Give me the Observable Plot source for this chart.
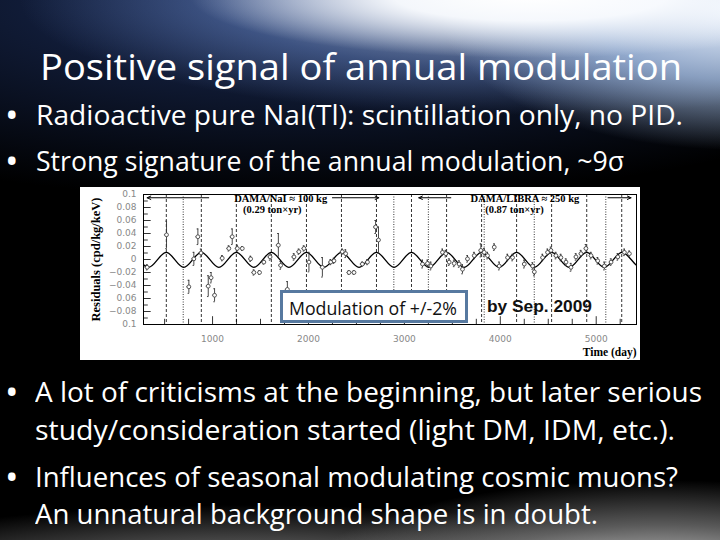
<!DOCTYPE html>
<html><head><meta charset="utf-8">
<script src="https://cdn.jsdelivr.net/npm/d3@7"></script>
<script src="https://cdn.jsdelivr.net/npm/@observablehq/plot@0.6"></script>
<style>
html,body{margin:0;padding:0;background:#000;}
#slide{position:relative;width:720px;height:540px;overflow:hidden;
 background:
  radial-gradient(ellipse 340px 62px at 530px -4px, rgba(255,255,255,1) 0%, rgba(250,252,255,0.95) 40%, rgba(255,255,255,0) 100%),
  radial-gradient(ellipse 300px 140px at 740px 10px, rgba(235,242,252,1) 0%, rgba(170,195,230,0.75) 50%, rgba(60,90,150,0) 100%),
  radial-gradient(ellipse 500px 115px at 520px 0px, rgba(200,215,240,0.85) 0%, rgba(110,140,200,0.45) 60%, rgba(40,70,130,0) 100%),
  radial-gradient(ellipse 700px 200px at 300px 0px, rgba(30,50,100,0.9), rgba(0,0,0,0) 100%),
  radial-gradient(ellipse 360px 100px at 660px 580px, rgba(225,225,225,1), rgba(150,150,150,0.6) 55%, rgba(0,0,0,0) 100%),
  radial-gradient(ellipse 460px 75px at 250px 580px, rgba(175,175,175,0.85), rgba(0,0,0,0) 100%),
  #000;}
.t{position:absolute;white-space:nowrap;color:#fff;line-height:1;transform-origin:0 0;font-family:"Open Sans",sans-serif;}
#chart{position:absolute;left:80px;top:187px;width:560px;height:173px;background:#fff;}
#modbox{position:absolute;left:280px;top:290px;width:182px;height:27px;border:3px solid #5779a0;background:#fff;}
</style></head>
<body><div id="slide"><div id="chart"></div><div id="modbox"></div></div>
<script>
// ---- data ----
const dayNaI = [318,520,753,805,847,880,955,985,1021,1101,1170,1205,1258,1310,1397,1431,1490,1535,1600,1686,1710,1780,1849,1900,1953,2005,2145,2232,2266,2353,2388,2423,2475,2562,2615,2700,2730];
const resNaI = [-0.012,0.038,-0.042,0.001,0.035,0.010,-0.041,-0.028,-0.055,0.002,0.017,0.035,0.017,0.017,0.001,-0.020,-0.020,-0.004,0.004,0.022,-0.009,-0.046,0.004,0.012,0.017,-0.004,-0.012,-0.004,-0.002,0.012,0.009,-0.020,-0.020,-0.007,-0.004,0.050,0.030];
const errNaI = [0.004,0.021,0.010,0.010,0.012,0.006,0.016,0.008,0.010,0.004,0.004,0.012,0.005,0.003,0.004,0.004,0.003,0.003,0.005,0.018,0.006,0.012,0.005,0.004,0.004,0.015,0.015,0.004,0.004,0.004,0.006,0.003,0.003,0.003,0.004,0.010,0.020];
const dayLIBRA = [3189,3241,3276,3397,3432,3467,3519,3571,3606,3658,3728,3797,3832,3867,3937,3989,4076,4128,4250,4337,4355,4441,4493,4528,4580,4632,4685,4737,4789,4841,4893,4946,5016,5085,5155,5225,5294,5346];
const resLIBRA = [-0.007,-0.006,-0.010,0.011,0.009,-0.004,-0.006,-0.007,-0.015,0.001,0.006,0.014,0.011,0.006,0.019,-0.010,0.003,0.003,-0.007,-0.010,-0.019,0.003,0.011,0.014,0.006,0.003,-0.004,-0.012,0.004,0.009,0.017,0.006,-0.002,-0.010,-0.004,0.004,0.011,0.009];
const errLIBRA = [0.006,0.005,0.006,0.005,0.005,0.005,0.005,0.005,0.007,0.005,0.005,0.010,0.006,0.005,0.005,0.006,0.005,0.005,0.006,0.005,0.006,0.005,0.005,0.005,0.005,0.005,0.005,0.006,0.005,0.005,0.006,0.005,0.005,0.006,0.005,0.005,0.005,0.004];
// fitted modulation: extrema
const extremaDays = [-30,152,335,518,700,883,1066,1248,1431,1613,1796,1979,2161,2344,2527,2709,2892,3074,3257,3440,3622,3805,3988,4170,4353,4535,4718,4901,5083,5266,5449,5631];
const extremaVals = [-0.012,0.011,-0.012,0.011,-0.012,0.011,-0.012,0.011,-0.012,0.011,-0.012,0.011,-0.012,0.011,-0.012,0.011,-0.012,0.011,-0.012,0.011,-0.012,0.011,-0.012,0.011,-0.012,0.011,-0.012,0.011,-0.012,0.011,-0.012,0.011];
const dashedDays = [518,883,1248,1613,1979,2344,2709,3074,3440,3805,4170,4535,4901,5266];
const dottedDays = [694,2890,3250,3832,4354,5100];
const xTicks = [1000,2000,3000,4000,5000];
const yTicks = [0.1,0.08,0.06,0.04,0.02,0,-0.02,-0.04,-0.06,-0.08,-0.1];
const yTickLabels = ["0.1","0.08","0.06","0.04","0.02","0","\u22120.02","\u22120.04","0.06","\u22120.08","0.1"];
const xMinor = [500,750,1250,1500,1750,2250,2500,2750,3250,3500,3750,4250,4500,4750,5250];
const yMinor = [0.09,0.07,0.05,0.03,0.01,-0.01,-0.03,-0.05,-0.07,-0.09];
const expLabels = ["DAMA/NaI \u2248 100 kg","(0.29 ton\u00d7yr)","DAMA/LIBRA \u2248 250 kg","(0.87 ton\u00d7yr)"];
const expLabelDays = [1710,1623,4257,4147];
const expLabelVals = [0.094,0.076,0.094,0.076];
const arrowFrom = [960,2250,3484,5123];
const arrowTo = [318,2733,3150,5363];
const arrowVal = 0.095;

const pts = dayNaI.map((d,i)=>({day:d,v:resNaI[i],e:errNaI[i],hw:22}))
  .concat(dayLIBRA.map((d,i)=>({day:d,v:resLIBRA[i],e:errLIBRA[i],hw:18})));
const curve = extremaDays.map((d,i)=>({day:d,v:extremaVals[i]}));
const labels = expLabels.map((t,i)=>({t,day:expLabelDays[i],v:expLabelVals[i]}));
const arrows = arrowFrom.map((d,i)=>({x1:d,x2:arrowTo[i],y:arrowVal}));
const yLab = new Map(yTicks.map((v,i)=>[v,yTickLabels[i]]));

const chart = Plot.plot({
  width:560,height:173,marginLeft:63,marginRight:4,marginTop:7,marginBottom:36,
  style:{background:"#fff",fontFamily:"DejaVu Sans",fontSize:"9px",color:"#888"},
  x:{domain:[280,5420]},
  y:{domain:[-0.1,0.1]},
  marks:[
    Plot.ruleX(dashedDays,{stroke:"#000",strokeDasharray:"3,2",strokeWidth:0.8}),
    Plot.ruleX(dottedDays,{stroke:"#000",strokeDasharray:"1,1.5",strokeWidth:0.8}),
    Plot.ruleX(xMinor,{y1:-0.1,y2:-0.092,stroke:"#000",strokeWidth:0.8}),
    Plot.ruleX(xTicks,{y1:-0.1,y2:-0.088,stroke:"#000",strokeWidth:0.8}),
    Plot.ruleY(yMinor,{x1:280,x2:330,stroke:"#000",strokeWidth:0.8}),
    Plot.ruleY(yTicks,{x1:280,x2:360,stroke:"#000",strokeWidth:0.8}),
    Plot.line(curve,{x:"day",y:"v",curve:"natural",clip:true,stroke:"#000",strokeWidth:1.3}),
    Plot.ruleX(pts,{x:"day",y1:d=>d.v-d.e,y2:d=>d.v+d.e,stroke:"#333",strokeWidth:0.9}),
    Plot.ruleY(pts,{y:d=>d.v+d.e,x1:d=>d.day-8,x2:d=>d.day+8,stroke:"#333",strokeWidth:0.9}),
    Plot.ruleY(pts,{y:d=>d.v-d.e,x1:d=>d.day-8,x2:d=>d.day+8,stroke:"#333",strokeWidth:0.9}),
    Plot.ruleY(pts,{y:"v",x1:d=>d.day-d.hw,x2:d=>d.day+d.hw,stroke:"#444",strokeWidth:0.8}),
    Plot.dot(pts,{x:"day",y:"v",r:1.9,stroke:"#333",fill:"#fff",strokeWidth:0.8}),
    Plot.arrow(arrows,{x1:"x1",x2:"x2",y1:"y",y2:"y",stroke:"#000",strokeWidth:1,headLength:6,headAngle:50}),
    Plot.text(labels,{x:"day",y:"v",text:"t",fontFamily:"Liberation Serif",fontWeight:"bold",fontSize:10.5,fill:"#000"}),
    Plot.axisX({ticks:xTicks,tickFormat:d=>String(d),tickSize:0,tickPadding:11,label:null}),
    Plot.axisY({ticks:yTicks,tickFormat:d=>yLab.get(d),tickSize:0,tickPadding:7,label:null}),
    Plot.frame({stroke:"#000",strokeWidth:1}),
    Plot.text(["Residuals (cpd/kg/keV)"],{frameAnchor:"left",textAnchor:"middle",lineAnchor:"middle",rotate:-90,dx:-48,fontFamily:"Liberation Serif",fontWeight:"bold",fontSize:12.5,fill:"#000"}),
    Plot.text(["Time (day)"],{frameAnchor:"bottom-right",textAnchor:"end",lineAnchor:"middle",dy:28,fontFamily:"Liberation Serif",fontWeight:"bold",fontSize:11.5,fill:"#000"})
  ]
});
document.getElementById("chart").appendChild(chart);

// ---- slide text ----
const slide = document.getElementById("slide");
function place(txt, fs, left, right, baseline, extra){
  const el = document.createElement("div");
  el.className = "t";
  el.textContent = txt;
  el.style.fontSize = fs + "px";
  if (extra) Object.assign(el.style, extra);
  const probe = document.createElement("span");
  probe.style.cssText = "display:inline-block;width:0;height:0;vertical-align:baseline;";
  el.appendChild(probe);
  el.style.left = left + "px";
  el.style.top = "0px";
  slide.appendChild(el);
  const base = probe.getBoundingClientRect().top - el.getBoundingClientRect().top;
  el.style.top = (baseline - base) + "px";
  if (right != null) {
    const w = el.getBoundingClientRect().width;
    el.style.transform = "scaleX(" + ((right - left) / w) + ")";
  }
  return el;
}
place("Positive signal of annual modulation", 36, 40, 682, 80);
place("\u2022", 36, 5, null, 128);
place("Radioactive pure NaI(Tl): scintillation only, no PID.", 27, 36, 683, 125);
place("\u2022", 36, 5, null, 174);
place("Strong signature of the annual modulation, ~9\u03c3", 27, 36, 624, 171);
place("\u2022", 36, 5, null, 405);
place("A lot of criticisms at the beginning, but later serious", 27, 35, 702, 402);
place("study/consideration started (light DM, IDM, etc.).", 27, 35, 675, 440);
place("\u2022", 36, 5, null, 490);
place("Influences of seasonal modulating cosmic muons?", 27, 35, 678, 487);
place("An unnatural background shape is in doubt.", 27, 35, 598, 524);
place("Modulation of +/-2%", 18, 289, 457, 315, {color:"#111"});
place("by Sep. 2009", 16, 487, 592, 311.5, {color:"#111", fontFamily:"Liberation Sans", fontWeight:"600"});
</script></body></html>
